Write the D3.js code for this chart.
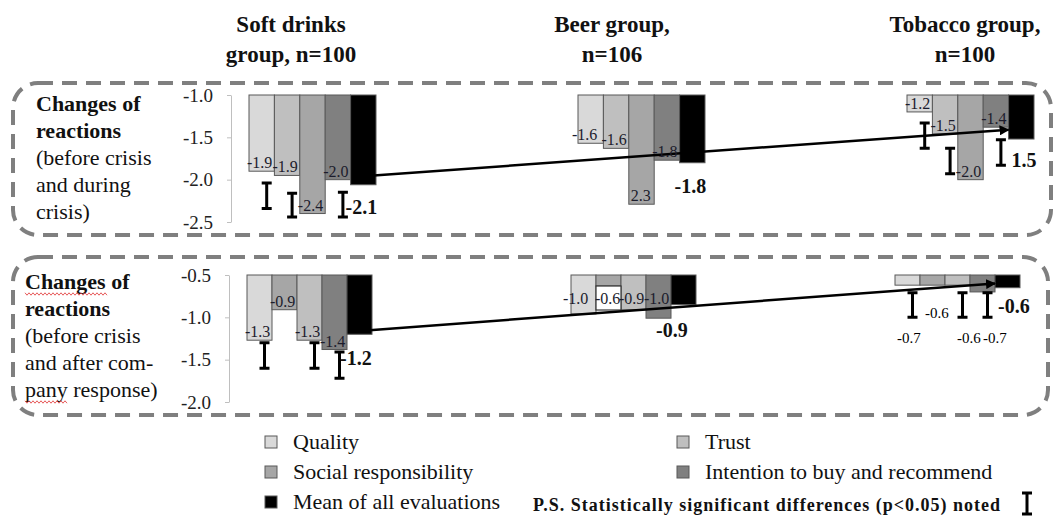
<!DOCTYPE html>
<meta charset="utf-8">
<style>
  body { margin: 0; background: #fff; }
  svg text { font-family: "Liberation Serif", "LiberationSerif", "Times New Roman", "DejaVu Serif", serif; }
  .frame { fill: none; stroke: #7f7f7f; stroke-width: 4px; stroke-dasharray: 15, 9; }
  .axis path, .axis line { stroke: #bfbfbf; }
  .axis text { font-size: 19px; fill: #222; }
  .bar { stroke: #595959; stroke-width: 1px; }
  .val { font-size: 16px; fill: #1c1c2c; }
  .mean-val { font-size: 20px; font-weight: bold; fill: #111; }
  .sig { stroke: #000; stroke-width: 3px; fill: none; }
  .trend { stroke: #000; stroke-width: 2.5px; fill: none; }
  .side { font-size: 22px; fill: #111; }
  .title { font-size: 23px; font-weight: bold; fill: #111; text-anchor: middle; }
  .legend { font-size: 22px; fill: #111; }
</style>
<body></body>
<script src="https://d3js.org/d3.v7.min.js"></script>
<script>
  var groups = ["Soft drinks", "Beer", "Tobacco"];
  var groupTitles = [["Soft drinks", "group, n=100"], ["Beer group,", "n=106"], ["Tobacco group,", "n=100"]];
  var measures = ["Quality", "Trust", "Social responsibility", "Intention to buy and recommend", "Mean of all evaluations"];
  var measureColours = ["#d9d9d9", "#bfbfbf", "#a6a6a6", "#808080", "#000000"];

  // before crisis vs during crisis
  var duringQuality = [-1.9, -1.57, -1.2];
  var duringTrust = [-1.95, -1.63, -1.46];
  var duringSocial = [-2.4, -2.29, -2.0];
  var duringIntention = [-2.0, -1.77, -1.38];
  var duringMean = [-2.06, -1.8, -1.52];
  var duringLabels = [["-1.9", "-1.9", "-2.4", "-2.0", "-2.1"],
                      ["-1.6", "-1.6", "2.3", "-1.8", "-1.8"],
                      ["-1.2", "-1.5", "-2.0", "-1.4", "1.5"]];
  var duringTrend = [-1.96, -1.41];
  var duringTicks = [-1.0, -1.5, -2.0, -2.5];
  // [group, bar position, from, to]
  var duringSig = [[0, 0, -2.04, -2.34], [0, 1, -2.16, -2.44], [0, 3, -2.15, -2.44],
                   [2, 0, -1.33, -1.63], [2, 1, -1.63, -1.93], [2, 3, -1.53, -1.83]];

  // before crisis vs after company response
  var afterQuality = [-1.27, -0.96, -0.62];
  var afterTrust = [-1.27, -0.91, -0.62];
  var afterSocial = [-0.91, -0.63, -0.62];
  var afterIntention = [-1.38, -1.01, -0.70];
  var afterMean = [-1.2, -0.85, -0.65];
  var afterLabels = [["-1.3", "-0.9", "-1.3", "-1.4", "-1.2"],
                     ["-1.0", "-0.6", "-0.9", "-1.0", "-0.9"],
                     ["-0.7", "-0.6", "-0.6", "-0.7", "-0.6"]];
  var afterTrend = [-1.16, -0.6];
  var afterTicks = [-0.5, -1.0, -1.5, -2.0];
  var afterSig = [[0, 0, -1.30, -1.60], [0, 2, -1.30, -1.60], [0, 3, -1.41, -1.72],
                  [2, 0, -0.71, -1.0], [2, 2, -0.71, -1.0], [2, 3, -0.71, -1.0]];

  var svg = d3.select("body").append("svg")
    .attr("width", 1053).attr("height", 520);

  svg.append("defs").append("marker")
    .attr("id", "arrow")
    .attr("viewBox", "0 0 10 10")
    .attr("refX", 9).attr("refY", 5)
    .attr("markerWidth", 4).attr("markerHeight", 4)
    .attr("orient", "auto")
    .append("path").attr("d", "M0,0L10,5L0,10z").attr("fill", "#000");

  // titles
  var titleX = [291, 612, 965];
  groupTitles.forEach(function(t, i) {
    t.forEach(function(line, j) {
      svg.append("text").attr("class", "title")
        .attr("x", titleX[i]).attr("y", 32 + j * 30).text(line);
    });
  });

  var panels = [
    {
      series: [duringQuality, duringTrust, duringSocial, duringIntention, duringMean],
      colourIdx: [0, 1, 2, 3, 4],
      labels: duringLabels, trend: duringTrend, ticks: duringTicks, sig: duringSig,
      domain: [-1.0, -2.5], range: [95, 222], centers: [312.5, 970.5], width: 127, axisX: 231,
      frame: [13, 83, 1038, 152],
      side: { x: 36, y: 111, lines: [["Changes of", true], ["reactions", true], ["(before crisis", false], ["and during", false], ["crisis)", false]] },
      overrides: { "0-4": { dx: -5, dy: 29 }, "1-0": { dx: -6 }, "1-2": { dx: 2 }, "2-4": { dx: 3, dy: 28 } }
    },
    {
      series: [afterQuality, afterSocial, afterTrust, afterIntention, afterMean],
      colourIdx: [0, 2, 1, 3, 4],
      labels: afterLabels, trend: afterTrend, ticks: afterTicks, sig: afterSig,
      domain: [-0.5, -2.0], range: [275, 402], centers: [309.5, 957.5], width: 125, axisX: 229,
      frame: [13, 257, 1035, 158],
      side: { x: 25, y: 289, lines: [["Changes of", true], ["reactions", true], ["(before crisis", false], ["and after com-", false], ["pany response)", false]] },
      overrides: {
        "0-4": { dx: -7, dy: 31 },
        "1-0": { dx: -8, dy: -10 }, "1-1": { dx: -1, dy: 18, box: true }, "1-2": { dy: -6 }, "1-3": { dy: -14 },
        "1-4": { dx: -15, dy: 32 },
        "2-0": { dx: 2, dy: 58, small: true }, "2-1": { dx: 5, dy: 33, small: true },
        "2-2": { dx: 12, dy: 58, small: true }, "2-3": { dx: 13, dy: 51, small: true },
        "2-4": { dx: 3, dy: 25 }
      }
    }
  ];

  panels.forEach(function(p) {
    svg.append("rect").attr("class", "frame")
      .attr("x", p.frame[0]).attr("y", p.frame[1])
      .attr("width", p.frame[2]).attr("height", p.frame[3])
      .attr("rx", 25).attr("ry", 25);

    p.side.lines.forEach(function(l, i) {
      svg.append("text").attr("class", "side")
        .attr("x", p.side.x).attr("y", p.side.y + i * 27)
        .style("font-weight", l[1] ? "bold" : "normal")
        .text(l[0]);
    });

    var y = d3.scaleLinear().domain(p.domain).range(p.range);
    var gx = d3.scalePoint().domain(groups).range(p.centers);
    var bx = d3.scaleBand().domain(d3.range(5)).range([-p.width / 2, p.width / 2]);

    svg.append("g").attr("class", "axis")
      .attr("transform", "translate(" + p.axisX + ",0)")
      .call(d3.axisLeft(y).tickValues(p.ticks)
        .tickFormat(function(d) { return d.toFixed(1); })
        .tickSizeInner(4).tickSizeOuter(0).tickPadding(14))
      .selectAll("text").attr("font-family", null).attr("font-size", null);

    var rows = [];
    groups.forEach(function(g, gi) {
      p.series.forEach(function(s, k) {
        rows.push({ g: g, gi: gi, k: k, v: s[gi], label: p.labels[gi][k],
          left: gx(g) + bx(k), colour: measureColours[p.colourIdx[k]] });
      });
    });

    svg.append("g").selectAll("rect").data(rows).enter().append("rect")
      .attr("class", "bar")
      .attr("x", function(d) { return d.left; })
      .attr("y", y(p.domain[0]))
      .attr("width", bx.bandwidth())
      .attr("height", function(d) { return y(d.v) - y(p.domain[0]); })
      .attr("fill", function(d) { return d.colour; });

    // white label boxes
    rows.forEach(function(d) {
      var o = p.overrides[d.gi + "-" + d.k] || {};
      if (o.box) {
        svg.append("rect")
          .attr("x", d.left).attr("y", y(d.v))
          .attr("width", bx.bandwidth())
          .attr("height", (o.dy || 0) + 6)
          .attr("fill", "#fff").attr("stroke", "#333").attr("stroke-width", 1.2);
      }
    });

    // trend line
    var x0 = gx(groups[0]) + bx(4) + bx.bandwidth() / 2;
    var x1 = gx(groups[2]) + bx(4);
    svg.append("line").attr("class", "trend")
      .attr("x1", x0).attr("y1", y(p.trend[0]))
      .attr("x2", x1).attr("y2", y(p.trend[1]))
      .attr("marker-end", "url(#arrow)");

    // value labels
    svg.append("g").selectAll("text").data(rows).enter().append("text")
      .attr("class", function(d) { return d.k === 4 ? "mean-val" : "val"; })
      .attr("x", function(d) {
        var o = p.overrides[d.gi + "-" + d.k] || {};
        return d.left + (o.dx !== undefined ? o.dx : (d.k === 4 ? -5 : -2));
      })
      .attr("y", function(d) {
        var o = p.overrides[d.gi + "-" + d.k] || {};
        return y(d.v) + (o.dy !== undefined ? o.dy : (d.k === 4 ? 30 : -3));
      })
      .style("fill", function(d) {
        var o = p.overrides[d.gi + "-" + d.k] || {};
        return o.small ? "#000" : null;
      })
      .style("font-size", function(d) {
        var o = p.overrides[d.gi + "-" + d.k] || {};
        return o.small ? "15px" : null;
      })
      .text(function(d) { return d.label; });

    // significance markers
    p.sig.forEach(function(s) {
      var cx = gx(groups[s[0]]) + bx(s[1]) + bx.bandwidth() / 2 + 5;
      var ya = y(s[2]), yb = y(s[3]);
      svg.append("path").attr("class", "sig")
        .attr("d", "M" + (cx - 5) + "," + ya + "H" + (cx + 5) +
          "M" + cx + "," + ya + "V" + yb +
          "M" + (cx - 5) + "," + yb + "H" + (cx + 5));
    });
  });

  // spell-check squiggles
  function squiggle(xa, xb, yy) {
    var pts = d3.range(xa, xb, 2).map(function(x, i) { return [x, yy + (i % 2 ? 1.2 : -1.2)]; });
    svg.append("path").attr("d", d3.line()(pts))
      .attr("fill", "none").attr("stroke", "#e03030").attr("stroke-width", 0.8);
  }
  squiggle(25, 109, 294);
  squiggle(25, 68, 402);

  // legend
  var legendPos = [[265, 436], [677, 436], [265, 466], [677, 466], [265, 496]];
  measures.forEach(function(m, i) {
    var lp = legendPos[i];
    svg.append("rect")
      .attr("x", lp[0]).attr("y", lp[1]).attr("width", 12).attr("height", 12)
      .attr("fill", measureColours[i]).attr("stroke", "#595959").attr("stroke-width", 1);
    svg.append("text").attr("class", "legend")
      .attr("x", lp[0] + 28).attr("y", lp[1] + 13).text(m);
  });

  svg.append("text")
    .attr("x", 533).attr("y", 511)
    .attr("textLength", 467)
    .style("font-size", "18px").style("font-weight", "bold").style("fill", "#111")
    .text("P.S. Statistically significant differences (p<0.05) noted");
  svg.append("path").attr("class", "sig")
    .attr("d", "M1022,493H1032M1027,493V514M1022,514H1032");
</script>
